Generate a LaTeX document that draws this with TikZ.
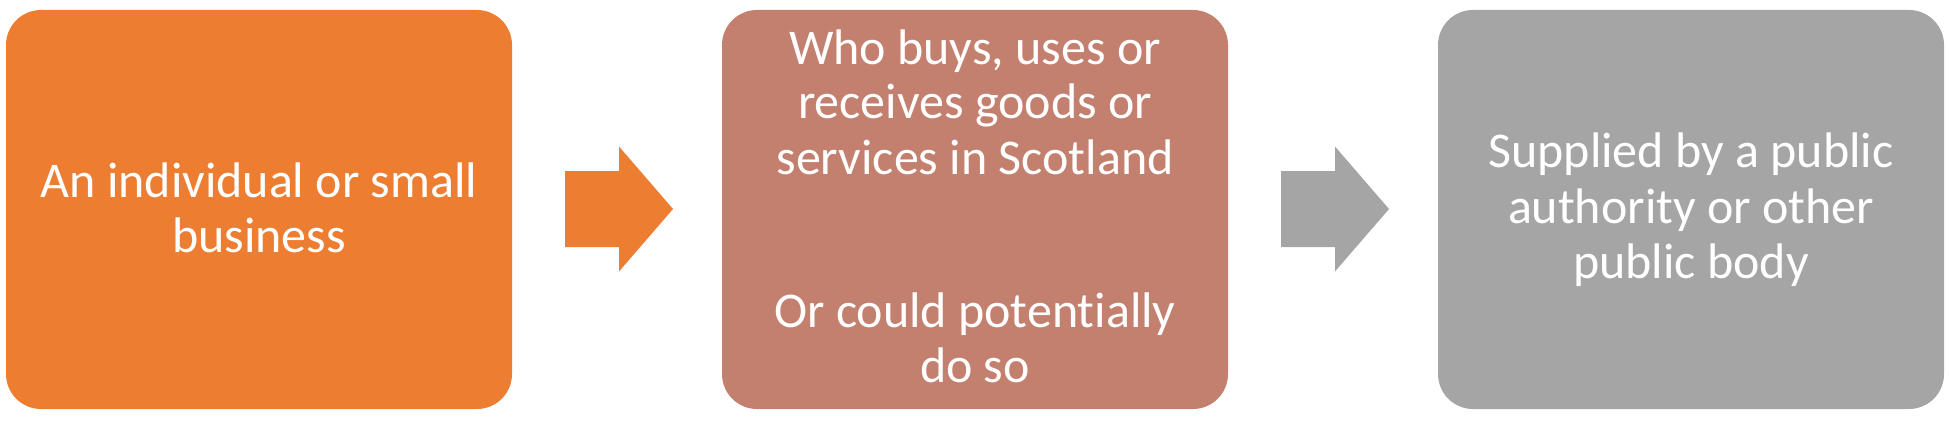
\documentclass[tikz,border=0pt]{standalone}
\usepackage{fontspec}
\setmainfont[Ligatures=NoCommon]{Carlito}
\usetikzlibrary{calc}
\definecolor{orng}{HTML}{ED7D31}
\definecolor{salm}{HTML}{C4806F}
\definecolor{gry}{HTML}{A5A5A5}
\tikzset{
  box/.style={rounded corners=35pt, inner sep=0pt, minimum width=506pt, minimum height=399pt},
  lbl/.style={anchor=base, inner sep=0pt, text=white, font=\fontsize{50}{55}\selectfont},
}
\newcommand{\blockarrow}[2]{%
  \fill[#1] (#2) ++(-54,-38) -- ++(54,0) -- ++(0,-24.5) -- ++(54,62.5)
    -- ++(-54,62.5) -- ++(0,-24.5) -- ++(-54,0) -- cycle;}
\begin{document}
\begin{tikzpicture}[x=1pt, y=-1pt]
\useasboundingbox (0,0) rectangle (1949,428);
\node[box, fill=orng] (b1) at (259,209.5) {};
\node[box, fill=salm] (b2) at (975,209.5) {};
\node[box, fill=gry]  (b3) at (1691,209.5) {};
% text box 1
\node[lbl] (t11) at (259,197) {An individual or small};
\node[lbl] (t12) at (259,252) {business};
% text box 2
\node[lbl] (t21) at (975,64) {Who buys, uses or};
\node[lbl] (t22) at (975,118) {receives goods or};
\node[lbl] (t23) at (975,174) {services in Scotland};
\node[lbl] (t24) at (975,327) {Or could potentially};
\node[lbl] (t25) at (975,382) {do so};
% text box 3
\node[lbl] (t31) at (1691,167) {Supplied by a public};
\node[lbl] (t32) at (1691,223) {authority or other};
\node[lbl] (t33) at (1691,278) {public body};
% arrows
\coordinate (m1) at ($(b1.east)!0.5!(b2.west)+(2,-0.5)$);
\coordinate (m2) at ($(b2.east)!0.5!(b3.west)+(2,-0.5)$);
\blockarrow{orng}{m1}
\blockarrow{gry}{m2}
\end{tikzpicture}
\end{document}
